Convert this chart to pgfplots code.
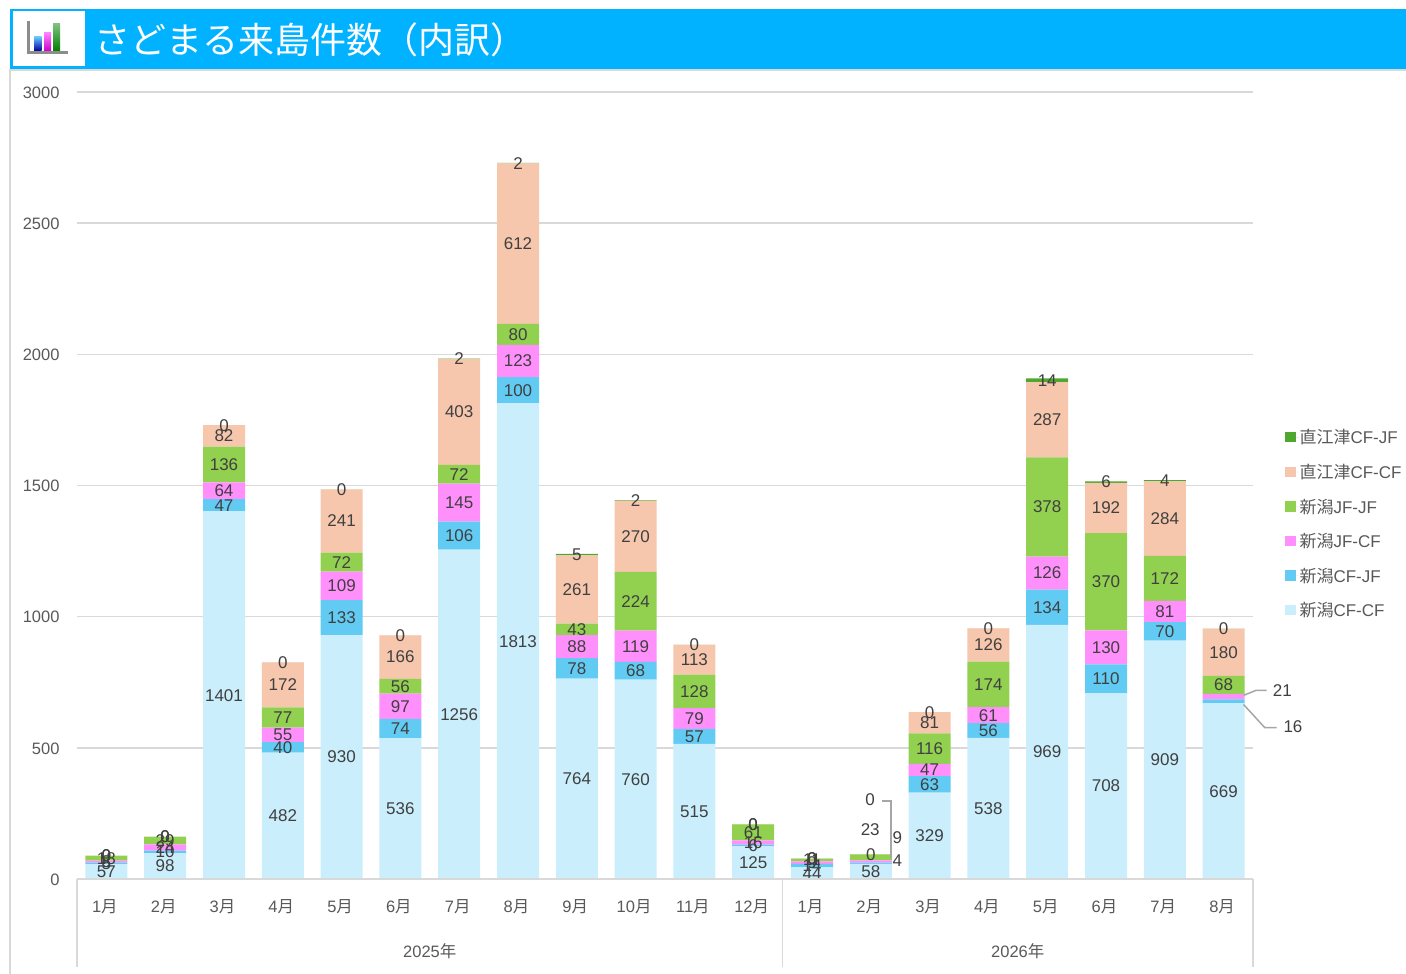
\documentclass[border=0pt]{standalone}
\usepackage{pgfplots}
\usepackage{pgfplotstable}
\usepackage{fontspec}
\pgfplotsset{compat=1.18}
\setmainfont{Liberation Sans}
\newfontfamily\cjk{Noto Sans CJK JP}
\definecolor{cA}{HTML}{CAEEFB}
\definecolor{cB}{HTML}{61CBF3}
\definecolor{cC}{HTML}{FF8FFB}
\definecolor{cD}{HTML}{92D050}
\definecolor{cE}{HTML}{F6C6AD}
\definecolor{cF}{HTML}{4EA72E}
\definecolor{gridc}{HTML}{D9D9D9}
\definecolor{leadc}{HTML}{A6A6A6}
\definecolor{tickc}{HTML}{595959}
\definecolor{labc}{HTML}{404040}
\definecolor{hdr}{HTML}{00B2FF}
\pgfplotstableread{
x y l
0 57 57
1 98 98
2 1401 1401
3 482 482
4 930 930
5 536 536
6 1256 1256
7 1813 1813
8 764 764
9 760 760
10 515 515
11 125 125
12 44 44
13 58 58
14 329 329
15 538 538
16 969 969
17 708 708
18 909 909
19 669 669
}\tA
\pgfplotstableread{
x y l
0 5 5
1 10 10
2 47 47
3 40 40
4 133 133
5 74 74
6 106 106
7 100 100
8 78 78
9 68 68
10 57 57
11 6 6
12 14 14
13 4 {}
14 63 63
15 56 56
16 134 134
17 110 110
18 70 70
19 16 {}
}\tB
\pgfplotstableread{
x y l
0 8 8
1 24 24
2 64 64
3 55 55
4 109 109
5 97 97
6 145 145
7 123 123
8 88 88
9 119 119
10 79 79
11 16 16
12 9 9
13 9 {}
14 47 47
15 61 61
16 126 126
17 130 130
18 81 81
19 21 {}
}\tC
\pgfplotstableread{
x y l
0 18 18
1 29 29
2 136 136
3 77 77
4 72 72
5 56 56
6 72 72
7 80 80
8 43 43
9 224 224
10 128 128
11 61 61
12 11 11
13 23 {}
14 116 116
15 174 174
16 378 378
17 370 370
18 172 172
19 68 68
}\tD
\pgfplotstableread{
x y l
0 0 0
1 0 0
2 82 82
3 172 172
4 241 241
5 166 166
6 403 403
7 612 612
8 261 261
9 270 270
10 113 113
11 0 0
12 0 0
13 0 0
14 81 81
15 126 126
16 287 287
17 192 192
18 284 284
19 180 180
}\tE
\pgfplotstableread{
x y l
0 0 0
1 0 0
2 0 0
3 0 0
4 0 0
5 0 0
6 2 2
7 2 2
8 5 5
9 2 2
10 0 0
11 0 0
12 0 0
13 0 {}
14 0 0
15 0 0
16 14 14
17 6 6
18 4 4
19 0 0
}\tF
\pgfplotstableread{
x y l
12.99 301 0
12.99 187 23
13.45 157 9
13.45 69 4
20.0 717 21
20.18 580 16
}\tOut
\pgfplotsset{
  sq/.style={legend image code/.code={\fill[##1] (0pt,-5pt) rectangle (10.5pt,5.5pt);\path (0pt,0pt) -- (14.5pt,0pt);}},
  seg/.style={fill=#1,draw=none,sq,
    nodes near coords,
    point meta=explicit symbolic,
    every node near coord/.append style={anchor=center,inner sep=0pt,
      text=labc,font=\fontsize{17}{17}\selectfont}},
  base/.style={
    at={(77pt,95pt)},anchor=south west,scale only axis,
    width=1176pt,height=787pt,
    xmin=-0.5,xmax=19.5,ymin=0,ymax=3000},
}
\begin{document}
\begin{tikzpicture}[x=1pt,y=1pt]
\path[use as bounding box] (0,0) rectangle (1406,974);
% header
\draw[gridc,line width=1.5pt] (10,0) -- (10,904) -- (1406,904);
\fill[hdr] (10,905) rectangle (1406,965);
\fill[white] (13,908) rectangle (85,963);
\fill[gray!90] (27,920) rectangle (29.5,953);
\fill[gray!90] (27,920) rectangle (68,922.5);
\shade[bottom color=blue!60!black,top color=cyan!60!blue!60] (34,923) rectangle (41.5,937);
\shade[bottom color=magenta!80!black,top color=magenta!50] (44,923) rectangle (51,941);
\shade[bottom color=green!50!black,top color=green!50!black!50] (53,923) rectangle (60,950);
\node[anchor=west,inner sep=0pt,text=white] at (94,934.5) {\cjk\fontsize{36}{36}\selectfont さどまる来島件数（内訳）};
\begin{axis}[base,
  ybar stacked,bar width=42pt,
  stacked ignores zero=false,
  axis line style={draw=none},
  ymajorgrids,grid style={gridc,line width=1.5pt},
  ytick={0,500,1000,1500,2000,2500,3000},
  yticklabel style={text=tickc,font=\fontsize{16.5}{17}\selectfont,xshift=-14pt,yshift=-0.5pt,
    /pgf/number format/assume math mode=true,/pgf/number format/1000 sep={}},
  tick style={draw=none},
  xtick={0,...,19},
  xticklabels={1{\cjk 月},2{\cjk 月},3{\cjk 月},4{\cjk 月},5{\cjk 月},6{\cjk 月},7{\cjk 月},8{\cjk 月},9{\cjk 月},10{\cjk 月},11{\cjk 月},12{\cjk 月},1{\cjk 月},2{\cjk 月},3{\cjk 月},4{\cjk 月},5{\cjk 月},6{\cjk 月},7{\cjk 月},8{\cjk 月}},
  xticklabel style={text=tickc,font=\fontsize{16.5}{17}\selectfont,anchor=center,yshift=-28pt,xshift=-1.5pt},
  reverse legend,
  legend style={at={(1208pt,448pt)},anchor=north west,draw=none,fill=none,
    font=\fontsize{17}{17}\selectfont,text=tickc,
    row sep=21.6pt,inner sep=0pt,outer sep=0pt,
    nodes={inner sep=0pt,anchor=west,text depth=0pt,text height=13pt}},
  legend cell align=left,
  clip=false,
]
\addplot[seg=cA] table[x=x,y=y,meta=l]{\tA};
\addplot[seg=cB] table[x=x,y=y,meta=l]{\tB};
\addplot[seg=cC] table[x=x,y=y,meta=l]{\tC};
\addplot[seg=cD] table[x=x,y=y,meta=l]{\tD};
\addplot[seg=cE] table[x=x,y=y,meta=l]{\tE};
\addplot[seg=cF] table[x=x,y=y,meta=l]{\tF};
\legend{{\cjk 新潟}CF-CF,{\cjk 新潟}CF-JF,{\cjk 新潟}JF-CF,{\cjk 新潟}JF-JF,{\cjk 直江津}CF-CF,{\cjk 直江津}CF-JF}
\end{axis}
\begin{axis}[base,axis lines=none,clip=false,ticks=none]
\addplot[only marks,mark=none,nodes near coords,point meta=explicit symbolic,
  every node near coord/.append style={anchor=center,inner sep=0pt,text=labc,font=\fontsize{17}{17}\selectfont}]
  table[x=x,y=y,meta=l]{\tOut};
% leader lines
\addplot[leadc,line width=1.5pt] coordinates {(13.19,298) (13.34,298) (13.34,80)};
\addplot[leadc,line width=1.5pt] coordinates {(19.34,700) (19.55,719) (19.73,719)};
\addplot[leadc,line width=1.5pt] coordinates {(19.34,665) (19.7,577) (19.9,577)};
% multi-level axis
\addplot[gridc,line width=1.5pt] coordinates {(-0.5,0) (19.5,0)};
\addplot[gridc,line width=1.5pt] coordinates {(-0.5,0) (-0.5,-336)};
\addplot[gridc,line width=1.5pt] coordinates {(11.5,0) (11.5,-336)};
\addplot[gridc,line width=1.5pt] coordinates {(19.5,0) (19.5,-336)};
\node[anchor=center,text=tickc,font=\fontsize{16.5}{17}\selectfont] at (axis cs:5.5,-275) {2025{\cjk 年}};
\node[anchor=center,text=tickc,font=\fontsize{16.5}{17}\selectfont] at (axis cs:15.5,-275) {2026{\cjk 年}};
\end{axis}
\end{tikzpicture}
\end{document}
